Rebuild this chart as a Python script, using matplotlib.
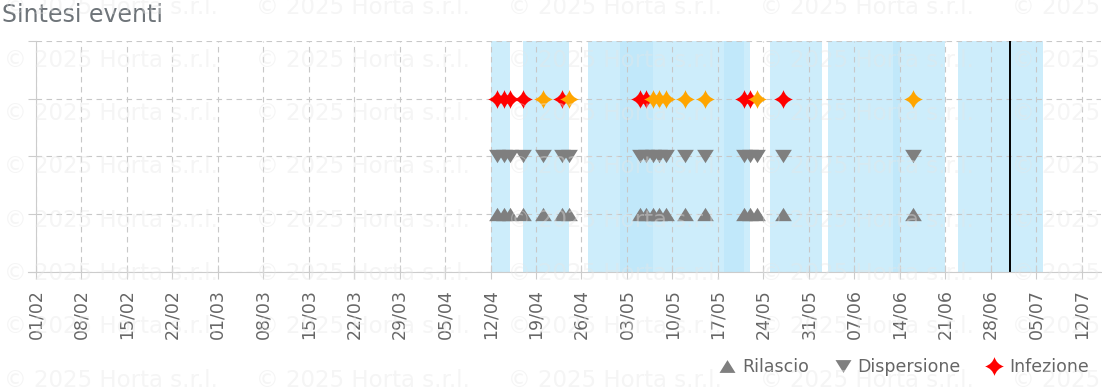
import datetime as dt
import matplotlib
matplotlib.use("Agg")
import matplotlib.pyplot as plt
import matplotlib.dates as mdates
from matplotlib.path import Path
from matplotlib.lines import Line2D

# events (same dates for the three series)
event_dates = ["2025-04-13", "2025-04-14", "2025-04-15", "2025-04-17", "2025-04-20",
               "2025-04-23", "2025-04-24", "2025-05-05", "2025-05-06", "2025-05-07",
               "2025-05-08", "2025-05-09", "2025-05-12", "2025-05-15", "2025-05-21",
               "2025-05-22", "2025-05-23", "2025-05-27", "2025-06-16"]
# 1 = red (grave), 0 = orange
infezione_grave = [1, 1, 1, 1, 0, 1, 0, 1, 1, 0, 0, 0, 0, 0, 1, 1, 0, 1, 0]

# shaded periods
band_start = ["2025-04-12", "2025-04-17", "2025-04-27", "2025-05-02", "2025-05-18",
              "2025-05-25", "2025-06-03", "2025-06-13", "2025-06-23"]
band_end = ["2025-04-15", "2025-04-24", "2025-05-07", "2025-05-22", "2025-05-21",
            "2025-06-02", "2025-06-14", "2025-06-21", "2025-07-06"]

oggi = "2025-07-01"
x_start = "2025-02-01"
x_end = "2025-07-15"

series_names = ["Rilascio", "Dispersione", "Infezione"]
series_levels = [1, 2, 3]


def d(s):
    return mdates.date2num(dt.datetime.strptime(s, "%Y-%m-%d"))


ev = [d(s) for s in event_dates]

# 4-point sparkle marker
c = 0.24
star = Path([(0, 1), (c, c), (1, 0), (c, -c), (0, -1), (-c, -c), (-1, 0), (-c, c), (0, 1), (0, 1)],
            [Path.MOVETO, Path.CURVE3, Path.CURVE3, Path.CURVE3, Path.CURVE3,
             Path.CURVE3, Path.CURVE3, Path.CURVE3, Path.CURVE3, Path.CLOSEPOLY])
tri_up = Path([(-1, -0.8), (1, -0.8), (0, 0.8), (-1, -0.8)],
              [Path.MOVETO, Path.LINETO, Path.LINETO, Path.CLOSEPOLY])
tri_down = Path([(-1, 0.8), (1, 0.8), (0, -0.8), (-1, 0.8)],
                [Path.MOVETO, Path.LINETO, Path.LINETO, Path.CLOSEPOLY])

W, H = 1102, 390
fig = plt.figure(figsize=(W / 100, H / 100), dpi=100)
ax = fig.add_axes([36 / W, 1 - 271.5 / H, (1101 - 36) / W, (271.5 - 41) / H])
ax.set_facecolor("none")

for s, e in zip(band_start, band_end):
    ax.axvspan(d(s), d(e), color="#bde7fa", alpha=0.75, lw=0, zorder=0.2)

ax.axvline(d(oggi), color="black", lw=1.4, zorder=2)

gray = "#7f7f7f"
ax.plot(ev, [series_levels[0]] * len(ev), ls="none", marker=tri_up, ms=12,
        color=gray, mew=0, zorder=3)
ax.plot(ev, [series_levels[1]] * len(ev), ls="none", marker=tri_down, ms=12,
        color=gray, mew=0, zorder=3)
for x, g in zip(ev, infezione_grave):
    ax.plot([x], [series_levels[2]], ls="none", marker=star, ms=13.5,
            color="#ff0000" if g else "#ffa500", mew=0, zorder=3)

ax.set_xlim(d(x_start), d(x_end))
ax.set_ylim(0, 4)
ticks = mdates.drange(dt.datetime(2025, 2, 1), dt.datetime(2025, 7, 13), dt.timedelta(days=7))
ax.set_xticks(ticks)
ax.xaxis.set_major_formatter(mdates.DateFormatter("%d/%m"))
ax.set_yticks([0, 1, 2, 3, 4])
ax.set_yticklabels([])

ax.grid(True, color="#c8c8c8", lw=0.8, ls=(0, (5, 4)))
ax.set_axisbelow(True)
for sp in ["top", "right"]:
    ax.spines[sp].set_visible(False)
ax.spines["left"].set_color("#cccccc")
ax.spines["bottom"].set_color("#cccccc")
ax.spines["bottom"].set_bounds(d(x_start) - 1.2, d(x_end))
ax.tick_params(axis="y", direction="out", length=5.8, color="#cccccc")
ax.tick_params(axis="x", direction="inout", length=9.4, color="#cccccc",
               labelrotation=90, labelsize=12.5, labelcolor="#666666", pad=8)

fig.text(2 / W, 1 - 3 / H, "Sintesi eventi", ha="left", va="top", fontsize=17,
         color="#6e7479")

handles = [Line2D([], [], ls="none", marker=tri_up, ms=11.5, color=gray, mew=0),
           Line2D([], [], ls="none", marker=tri_down, ms=11.5, color=gray, mew=0),
           Line2D([], [], ls="none", marker=star, ms=13.5, color="#ff0000", mew=0)]
leg = fig.legend(handles, series_names, loc="center right", ncol=3,
                 bbox_to_anchor=(1089 / W, 1 - 367 / H), frameon=False, fontsize=12.5,
                 handlelength=0.9, handletextpad=0.4, columnspacing=1.5,
                 borderpad=0, borderaxespad=0)
for t in leg.get_texts():
    t.set_color("#666666")

# watermark
for r in range(8):
    for k in range(5):
        fig.text((4 + 252 * k) / W, 1 - (7 + 53.3 * r) / H, "\u00a9 2025 Horta s.r.l.",
                 ha="left", va="center", fontsize=16.5, color="#e6e6e6", alpha=0.4,
                 zorder=10)

fig.savefig("out.png", dpi=100)
